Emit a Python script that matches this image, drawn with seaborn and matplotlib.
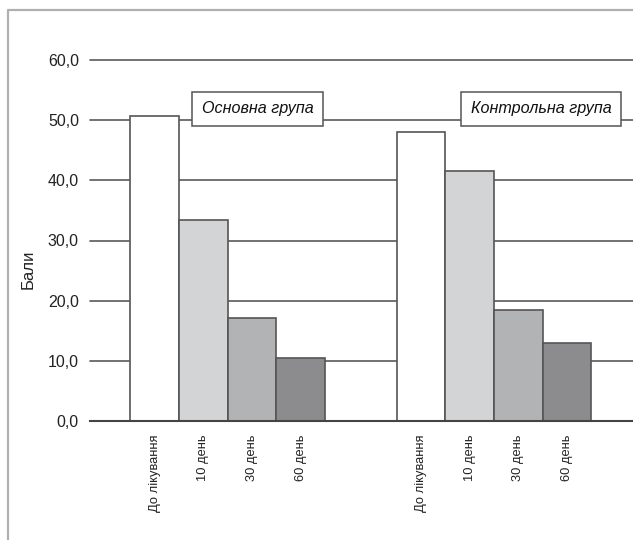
import pandas as pd
import seaborn as sns
import matplotlib.pyplot as plt
from matplotlib.lines import Line2D

# data
groups = ["Основна група", "Контрольна група"]
stages = ["До лікування", "10 день", "30 день", "60 день"]
main_group = [50.7, 33.4, 17.1, 10.5]
control_group = [48.0, 41.5, 18.4, 13.0]

df = pd.DataFrame({
    "group": [groups[0]] * 4 + [groups[1]] * 4,
    "stage": stages * 2,
    "value": main_group + control_group,
})

sns.set_theme(style="white")
plt.rcParams["font.family"] = ["Liberation Sans Narrow", "Liberation Sans", "DejaVu Sans"]
plain = ["Liberation Sans", "DejaVu Sans"]

fig = plt.figure(figsize=(6.33, 5.4), dpi=100)
ax = fig.add_axes([90 / 633, 1 - 421 / 540, 1 - 90 / 633, (421 - 60) / 540])

colors = ["#ffffff", "#d3d4d6", "#b2b3b5", "#8b8c8f"]
sns.barplot(data=df, x="group", y="value", hue="stage", palette=colors,
            width=0.73, errorbar=None, edgecolor="#555555", linewidth=1.2,
            legend=False, ax=ax)

ax.set_ylim(0, 60)
ax.set_xlim(-0.516, 1.521)
ax.set_yticks([0, 10, 20, 30, 40, 50, 60])
ax.set_yticklabels(["0,0", "10,0", "20,0", "30,0", "40,0", "50,0", "60,0"], fontsize=11.5,
                   family=plain, color="#222222")
ax.yaxis.grid(True, color="#5a5a5a", linewidth=1.2)
for gl in ax.get_ygridlines():
    gl.set_clip_on(False)
ax.set_axisbelow(True)
ax.tick_params(axis="y", length=0, pad=8)

# one tick label under every bar
bars = [p for p in ax.patches if p.get_height() > 0]
centers = sorted(p.get_x() + p.get_width() / 2 for p in bars)
ax.set_xticks(centers)
ax.set_xticklabels(stages * 2, rotation=90, fontsize=9.3, va="top", color="#222222")
ax.tick_params(axis="x", length=0, pad=10)
ax.set_xlabel("")

for s in ["left", "right", "top"]:
    ax.spines[s].set_visible(False)
ax.spines["bottom"].set_color("#444444")
ax.spines["bottom"].set_linewidth(1.5)

ax.set_ylabel("Бали", fontsize=12, family=plain, color="#222222")
ax.yaxis.set_label_coords(-0.1, 0.42)

box = dict(boxstyle="square,pad=0.6", fc="white", ec="#555555", lw=1.1)
ax.text(0.114, 51.9, groups[0], ha="center", va="center", fontsize=11.6,
        style="italic", family=plain, color="#111111", bbox=box, zorder=5)
ax.text(1.176, 51.9, groups[1], ha="center", va="center", fontsize=11.6,
        style="italic", family=plain, color="#111111", bbox=box, zorder=5)

# light gray frame around the figure
fig.add_artist(Line2D([8 / 633, 8 / 633, 1.01], [-0.01, 1 - 10 / 540, 1 - 10 / 540],
                      transform=fig.transFigure, color="#b0b0b0", lw=1.6))

fig.savefig("out.png", dpi=100)
